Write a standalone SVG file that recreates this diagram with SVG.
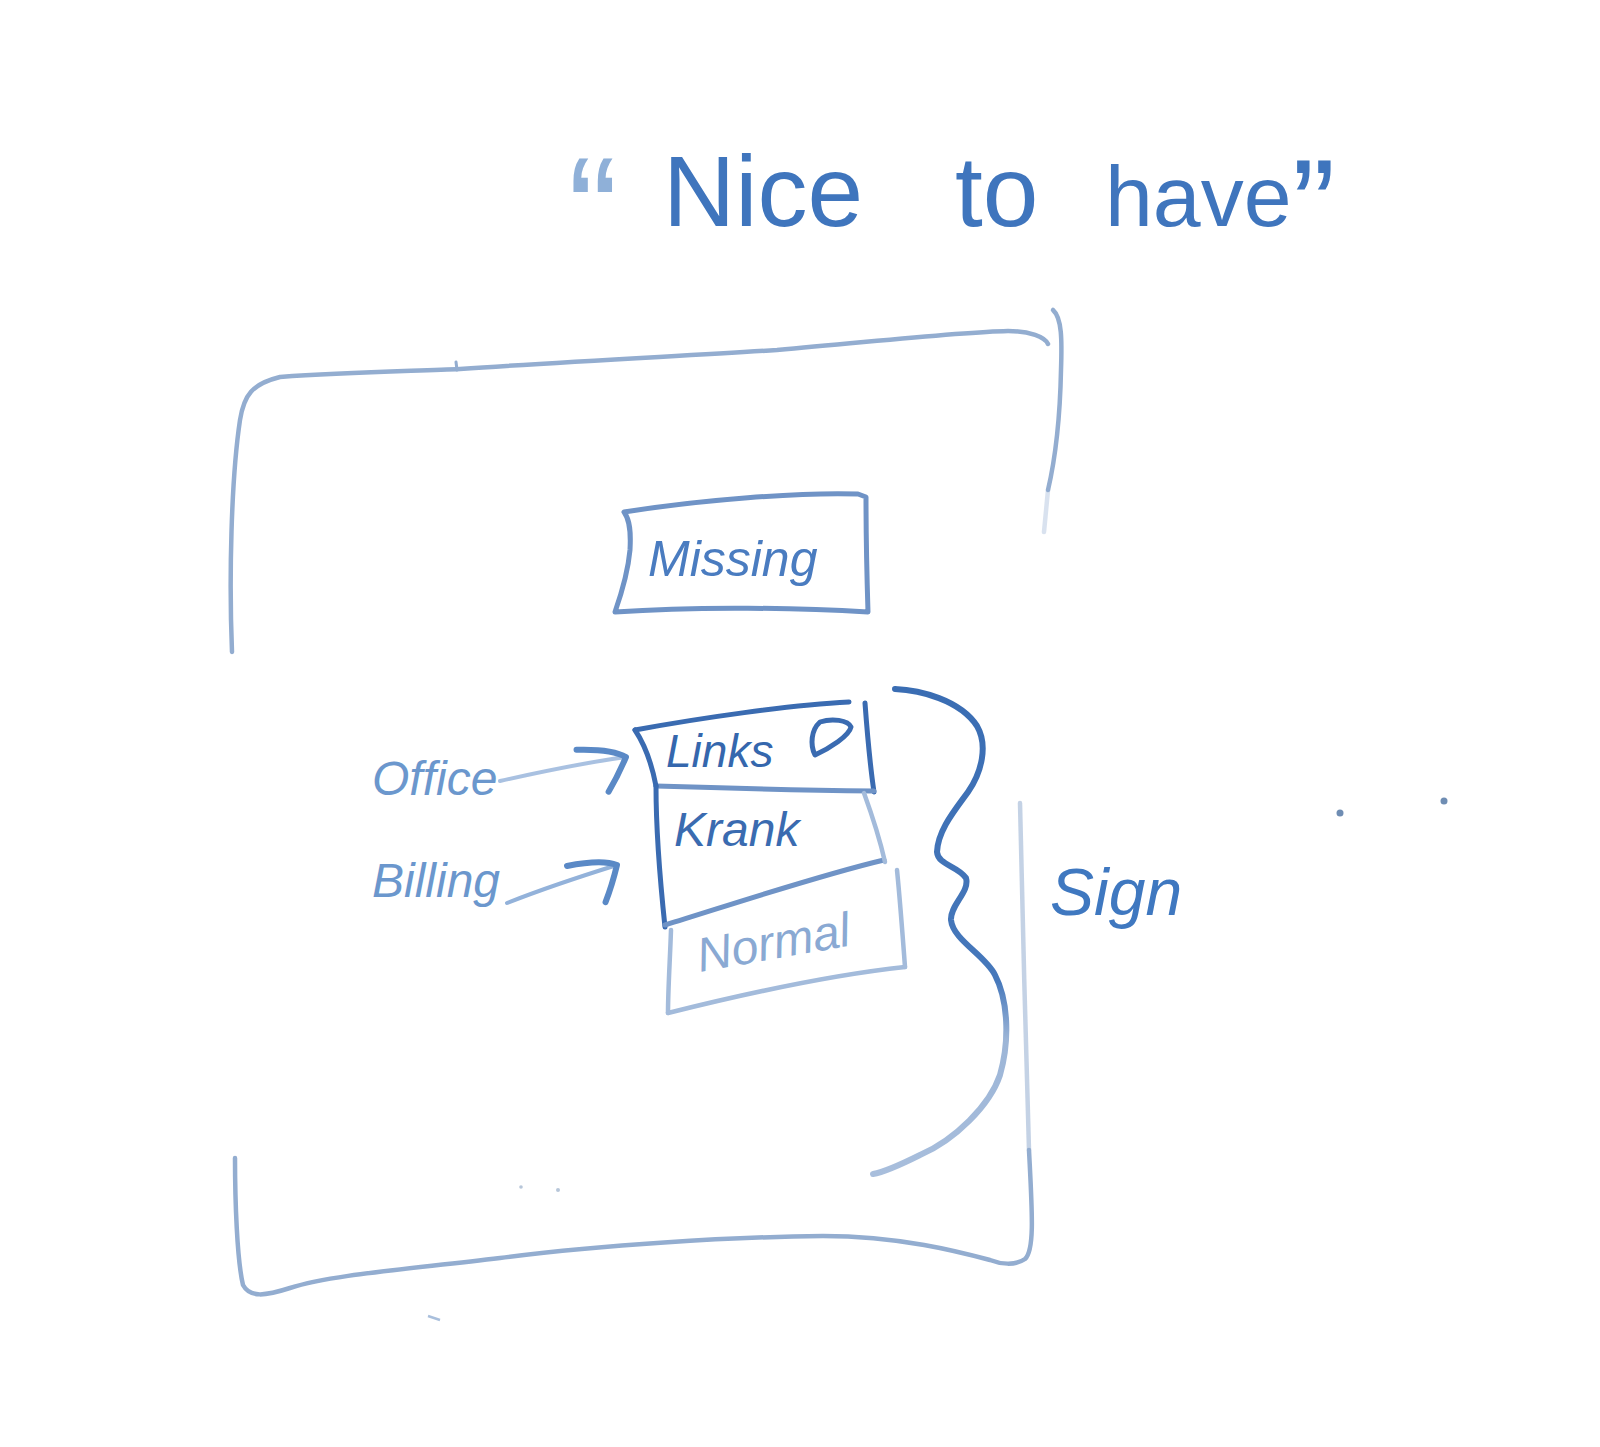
<svg xmlns="http://www.w3.org/2000/svg" width="1600" height="1447" viewBox="0 0 1600 1447">
  <style>
    .ink { fill: none; stroke-linecap: round; stroke-linejoin: round; }
    .frame { stroke: #93add0; stroke-width: 4.5; }
    .dark { stroke: #3a6bb1; stroke-width: 5; }
    .mid { stroke: #6f93c6; stroke-width: 5; }
    .light { stroke: #a3bbdb; stroke-width: 4.5; }
    .hand { font-family: "Liberation Sans", Arial, sans-serif; }
    .label { font-style: italic; }
    .arrowline { stroke: #93b2da; stroke-width: 4; }
  </style>
  <defs>
    <marker id="chev" markerUnits="userSpaceOnUse" markerWidth="80" markerHeight="80" viewBox="-50 -40 80 80" refX="0" refY="0" orient="auto" overflow="visible">
      <path d="M-48,-14 C-30,-12 -10,-8 0,0 C-6,10 -14,22 -22,32" fill="none" stroke="#5a89c6" stroke-width="6" stroke-linecap="round" stroke-linejoin="round"/>
    </marker>
    <linearGradient id="braceInk" gradientUnits="userSpaceOnUse" x1="0" y1="690" x2="0" y2="1175">
      <stop offset="0" stop-color="#3a6db3"/>
      <stop offset="0.6" stop-color="#4678bb"/>
      <stop offset="0.72" stop-color="#9cb5d7"/>
      <stop offset="1" stop-color="#a8bedc"/>
    </linearGradient>
  </defs>

  <rect width="1600" height="1447" fill="#ffffff"/>

  <!-- heading -->
  <g id="title">
    <text class="hand" y="226" font-size="100" fill="#3f75bd">
      <tspan x="568" y="262" font-size="150" fill="#8fb0d8">“</tspan><tspan x="663" y="226">Nice</tspan><tspan x="955">to</tspan><tspan x="1105" font-size="86">have</tspan><tspan x="1292" y="250" font-size="130">”</tspan>
    </text>
  </g>

  <!-- outer frame -->
  <g id="frame" class="ink frame">
    <path d="M232,652 C229,580 231,480 240,420 C244,395 252,384 280,377 C350,372 420,371 460,369 C560,362 680,356 777,350 C880,341 960,332 1008,331 C1030,331 1045,337 1048,344"/>
    <path d="M1053,310 C1062,318 1062,340 1061,370 C1060,420 1055,460 1048,490"/>
    <path d="M1048,490 L1044,532" stroke-opacity="0.35"/>
    <path d="M1020,803 C1022,900 1026,1050 1029,1150" stroke-opacity="0.55"/>
    <path d="M1029,1150 C1032,1210 1035,1250 1025,1259 C1015,1266 1000,1264 990,1260 C960,1252 900,1236 823,1236 C730,1237 600,1245 500,1258 C400,1270 330,1275 290,1288 C265,1296 250,1298 243,1285 C237,1260 235,1200 235,1158"/>
    <path d="M456,362 L457,370" stroke-width="3"/>
  </g>

  <!-- boxes -->
  <g id="missing">
    <path class="ink mid" d="M624,512 C700,500 800,492 858,494 L866,497 C866,540 867,580 868,612 C800,608 700,606 615,612 C622,592 628,572 630,550 C631,532 630,520 624,512 Z"/>
    <text class="hand label" x="648" y="576" font-size="50" fill="#4a7cc0">Missing</text>
  </g>

  <g id="links">
    <path class="ink dark" d="M635,730 C700,718 790,705 849,702"/>
    <path class="ink dark" d="M865,703 C867,730 870,765 874,792"/>
    <path class="ink mid" d="M656,786 C720,788 800,790 874,791"/>
    <path class="ink dark" d="M635,730 C645,745 652,765 656,786"/>
    <text class="hand label" x="666" y="767" font-size="46" fill="#3567ad">Links</text>
    <path class="ink dark" d="M820,722 C832,718 848,720 851,727 C849,736 830,748 815,755 C810,745 811,730 820,722 Z"/>
  </g>

  <g id="krank">
    <path class="ink dark" d="M656,786 C656,830 660,880 665,927"/>
    <path class="ink mid" d="M665,925 C730,905 820,875 884,860"/>
    <path class="ink light" d="M864,793 C872,815 880,840 885,862"/>
    <text class="hand label" x="674" y="846" font-size="48" fill="#3a6bb0">Krank</text>
  </g>

  <g id="normal">
    <path class="ink light" d="M671,930 C670,960 668,990 668,1013"/>
    <path class="ink light" d="M668,1013 C740,995 830,975 905,967"/>
    <path class="ink light" d="M897,870 C900,900 903,940 905,967"/>
    <text class="hand label" x="700" y="972" font-size="48" fill="#8aa9d3" transform="rotate(-10 700 972)">Normal</text>
  </g>

  <!-- side labels -->
  <g id="office">
    <text class="hand label" x="372" y="795" font-size="48" fill="#6b97cd">Office</text>
  </g>
  <g id="billing">
    <text class="hand label" x="372" y="897" font-size="48" fill="#6b97cd">Billing</text>
  </g>

  <g id="sign">
    <text class="hand label" x="1050" y="915" font-size="66" fill="#3f78c0">Sign</text>
  </g>

  <!-- curly brace grouping the stack -->
  <g id="brace">
    <path class="ink" stroke="url(#braceInk)" stroke-width="6" d="M895,689 C920,690 960,700 977,726 C988,745 982,772 968,792 C955,810 938,830 937,852 C938,865 958,866 966,878 C970,892 950,905 951,920 C953,940 985,955 995,975 C1008,1000 1010,1040 1000,1075 C990,1105 955,1140 920,1155 C900,1165 885,1172 873,1174"/>
  </g>

  <g id="connectors" class="ink">
    <path class="arrowline" stroke-opacity="0.8" d="M500,781 C540,772 590,762 626,757" marker-end="url(#chev)"/>
    <path class="arrowline" d="M507,903 C540,890 585,875 617,865" marker-end="url(#chev)"/>
  </g>

  <!-- stray marks -->
  <g id="marks" fill="#6f8db3">
    <circle cx="1340" cy="813" r="3.5"/>
    <circle cx="1444" cy="801" r="3.5"/>
    <circle cx="521" cy="1187" r="1.8" fill-opacity="0.5"/>
    <circle cx="558" cy="1190" r="2" fill-opacity="0.5"/>
    <path d="M428,1316 L440,1320" stroke="#a9bfdc" stroke-width="2.5" fill="none"/>
  </g>
</svg>
